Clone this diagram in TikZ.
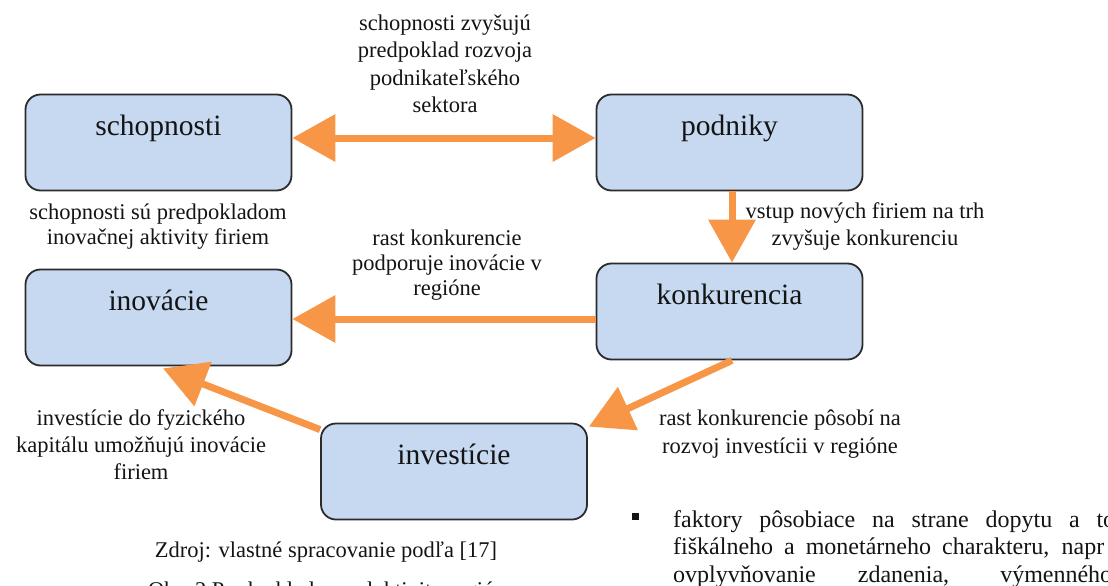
\documentclass[tikz,border=0pt]{standalone}
\usepackage{fontspec}
\setmainfont{Liberation Serif}
\usetikzlibrary{arrows.meta}
\definecolor{boxfill}{HTML}{C6D9F1}
\definecolor{boxline}{HTML}{2B2B2B}
\definecolor{arr}{HTML}{F79646}
\definecolor{txt}{HTML}{141414}
\begin{document}
\begin{tikzpicture}[x=1pt,y=-1pt,
  box/.style={draw=boxline, line width=1.8pt, fill=boxfill, rounded corners=15pt,
    minimum width=266pt, inner sep=0pt, text height=41pt, text depth=55pt,
    text=txt, font=\fontsize{29.5}{34}\selectfont},
  arrowline/.style={draw=arr, line width=7pt, -{Triangle[length=43pt,width=46pt]}},
  arrowboth/.style={draw=arr, line width=7pt, {Triangle[length=43pt,width=46pt]}-{Triangle[length=43pt,width=46pt]}},
  lbl/.style={align=center, inner sep=0pt, text=txt},
  body/.style={inner sep=0pt, text=txt, font=\fontsize{24}{27.5}\selectfont}
]
\useasboundingbox (0,0) rectangle (1108,586);
\clip (0,0) rectangle (1108,586);

% boxes
\node[box] (schop)   at (158.5,142.5) {schopnosti};
\node[box] (podniky) at (729.5,142.5) {podniky};
\node[box] (inov)    at (158.5,317.5) {inovácie};
\node[box] (konk)    at (729.5,311.5) {konkurencia};
\node[box] (invest)  at (454,471.5)   {investície};

% arrows
\draw[arrowboth] ([yshift=4.5pt]schop.east) -- ([yshift=4.5pt]podniky.west);
\draw[arrowline] ([xshift=2.5pt]podniky.south) -- ([xshift=2.5pt]konk.north);
\draw[arrowline] ([yshift=-7.5pt]konk.west) -- ([yshift=-1.5pt]inov.east);
\draw[arrowline] ([xshift=2.5pt]konk.south) -- ([xshift=1pt,yshift=-4pt]invest.north east);
\draw[arrowline] ([yshift=-7pt]invest.north west) -- ([xshift=4.5pt,yshift=-2pt]inov.south);

% labels
\node[lbl, font=\fontsize{22.5}{27.5}\selectfont] (ltop) at (445,64)
  {schopnosti zvyšujú\\predpoklad rozvoja\\podnikateľského\\sektora};
\node[lbl, font=\fontsize{22.5}{25}\selectfont] (lsi) at (158,227)
  {schopnosti sú predpokladom\\inovačnej aktivity firiem};
\node[lbl, font=\fontsize{22.5}{27}\selectfont] (lpk) at (865,226.5)
  {vstup nových firiem na trh\\zvyšuje konkurenciu};
\node[lbl, font=\fontsize{22.5}{25}\selectfont] (lki) at (447,265)
  {rast konkurencie\\podporuje inovácie v\\regióne};
\node[lbl, font=\fontsize{22.5}{28}\selectfont] (lkv) at (780,434)
  {rast konkurencie pôsobí na\\rozvoj investícii v regióne};
\node[lbl, font=\fontsize{22.5}{27}\selectfont] (lvi) at (141,445)
  {investície do fyzického\\kapitálu umožňujú inovácie\\firiem};

% source and caption
\node[lbl, anchor=base, font=\fontsize{22.5}{26}\selectfont] (zdroj) at (326,557)
  {Zdroj: vlastné spracovanie podľa [17]};
\node[lbl, anchor=base west, font=\fontsize{22.5}{26}\selectfont] (obr) at (148,597)
  {Obr. 2 Predpoklady produktivity regiónu};

% body text at the right
\node[fill=txt, minimum size=7pt, inner sep=0pt] (bullet) at (635,516) {};
\node[body, anchor=base west] (b1) at (673,527)
  {\makebox[442pt][s]{faktory pôsobiace na strane dopytu a to}};
\node[body, anchor=base west] (b2) at (673,554.5)
  {\makebox[431pt][s]{fiškálneho a monetárneho charakteru, napr}};
\node[body, anchor=base west] (b3) at (673,582)
  {\makebox[439pt][s]{ovplyvňovanie zdanenia, výmenného}};
\end{tikzpicture}
\end{document}
